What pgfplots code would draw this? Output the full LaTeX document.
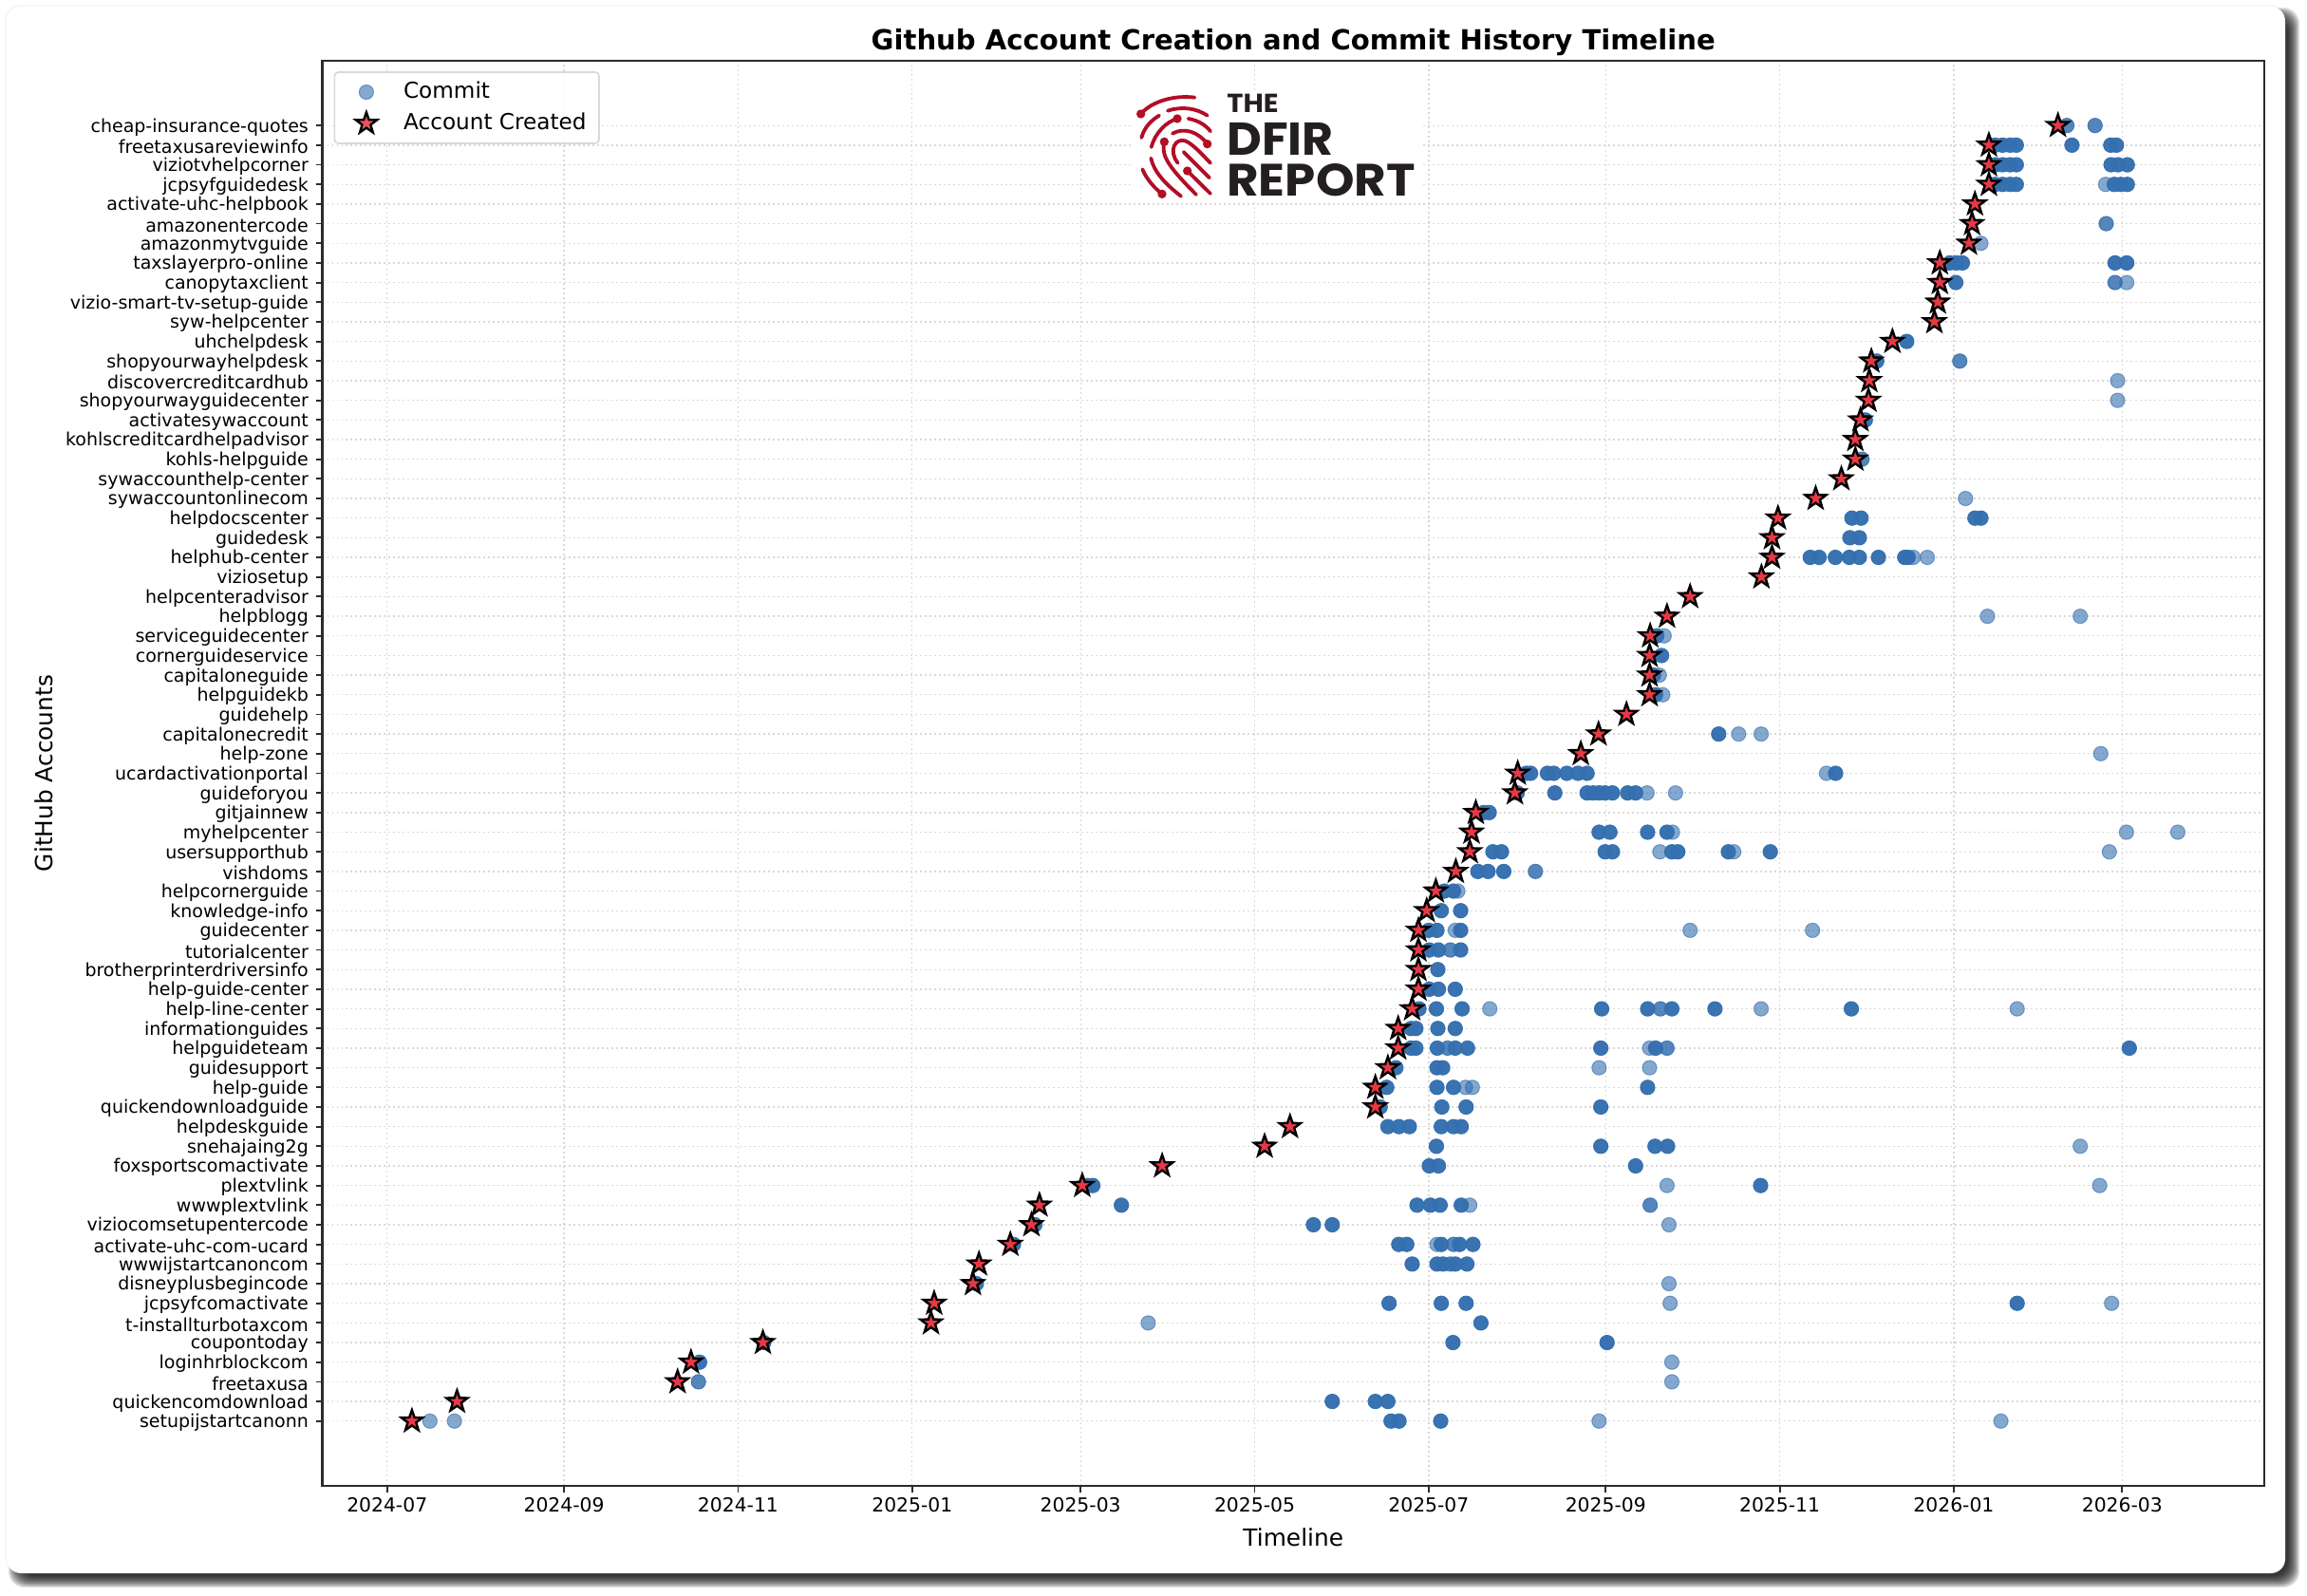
\documentclass[border=0pt]{standalone}
\usepackage{fontspec}
\setmainfont{DejaVu Sans}
\newfontfamily\logofont{Poppins}
\usepackage{pgfplots}
\pgfplotsset{compat=1.18}
\usetikzlibrary{calc}
\definecolor{commitc}{RGB}{52,111,175}
\definecolor{starc}{RGB}{230,57,70}
\definecolor{gridc}{RGB}{217,217,217}
\definecolor{framec}{RGB}{43,43,43}
\definecolor{logored}{RGB}{178,14,38}
\definecolor{logodark}{RGB}{35,31,32}
\pgfdeclareplotmark{fstar}{%
  \pgfpathmoveto{\pgfqpointpolar{90}{3.5pt}}%
  \pgfpathlineto{\pgfqpointpolar{126}{1.4pt}}%
  \pgfpathlineto{\pgfqpointpolar{162}{3.5pt}}%
  \pgfpathlineto{\pgfqpointpolar{198}{1.4pt}}%
  \pgfpathlineto{\pgfqpointpolar{234}{3.5pt}}%
  \pgfpathlineto{\pgfqpointpolar{270}{1.4pt}}%
  \pgfpathlineto{\pgfqpointpolar{306}{3.5pt}}%
  \pgfpathlineto{\pgfqpointpolar{342}{1.4pt}}%
  \pgfpathlineto{\pgfqpointpolar{18}{3.5pt}}%
  \pgfpathlineto{\pgfqpointpolar{54}{1.4pt}}%
  \pgfpathclose
  \pgfusepathqfillstroke
}
\begin{document}
\begin{tikzpicture}[x=1pt,y=1pt]
\useasboundingbox (0,0) rectangle (729,504);
% card shadow
\foreach \d in {7,6,5,4,3,2,1,0,-1,-2,-3,-4,-5}{
  \fill[black,opacity=0.11,rounded corners=5pt] ({2.4+2.4-0.3*\d+0.0},{504-497.1-2.4-0.3*\d}) rectangle ({722.1+2.4+0.3*\d},{504-2.1-2.4+0.3*\d});
}
\fill[black,opacity=0.03,rounded corners=5pt] (1.4,{504-497.1}) rectangle (722.1,{504-1.4});
\fill[white,rounded corners=4.5pt] (2.1,{504-497.1}) rectangle (722.1,{504-2.1});
\begin{axis}[
  at={(101.85pt,34.5pt)},anchor=south west,
  scale only axis,width=613.65pt,height=450.3pt,
  xmin=-22.7,xmax=657.8,ymin=-3.3,ymax=69.3,
  xtick={0,62,123,184,243,304,365,427,488,549,608},
  xticklabels={2024-07,2024-09,2024-11,2025-01,2025-03,2025-05,2025-07,2025-09,2025-11,2026-01,2026-03},
  ytick={0,1,...,66},
  yticklabels={setupijstartcanonn,quickencomdownload,freetaxusa,loginhrblockcom,coupontoday,t-installturbotaxcom,jcpsyfcomactivate,disneyplusbegincode,wwwijstartcanoncom,activate-uhc-com-ucard,viziocomsetupentercode,wwwplextvlink,plextvlink,foxsportscomactivate,snehajaing2g,helpdeskguide,quickendownloadguide,help-guide,guidesupport,helpguideteam,informationguides,help-line-center,help-guide-center,brotherprinterdriversinfo,tutorialcenter,guidecenter,knowledge-info,helpcornerguide,vishdoms,usersupporthub,myhelpcenter,gitjainnew,guideforyou,ucardactivationportal,help-zone,capitalonecredit,guidehelp,helpguidekb,capitaloneguide,cornerguideservice,serviceguidecenter,helpblogg,helpcenteradvisor,viziosetup,helphub-center,guidedesk,helpdocscenter,sywaccountonlinecom,sywaccounthelp-center,kohls-helpguide,kohlscreditcardhelpadvisor,activatesywaccount,shopyourwayguidecenter,discovercreditcardhub,shopyourwayhelpdesk,uhchelpdesk,syw-helpcenter,vizio-smart-tv-setup-guide,canopytaxclient,taxslayerpro-online,amazonmytvguide,amazonentercode,activate-uhc-helpbook,jcpsyfguidedesk,viziotvhelpcorner,freetaxusareviewinfo,cheap-insurance-quotes},
  tick align=outside,
  major tick length=2pt,
  tick style={line width=0.55pt,color=framec},
  xtick pos=bottom,ytick pos=left,
  axis line style={line width=0.8pt,color=framec},
  grid=major,
  grid style={color=gridc,line width=0.4pt,dash pattern=on 0.55pt off 0.95pt},
  yticklabel style={font=\fontsize{5.7}{7}\selectfont,inner sep=0pt,xshift=-2.2pt,yshift=-0.5pt},
  xticklabel style={font=\fontsize{6.1}{7}\selectfont,inner sep=0pt,yshift=-1.6pt},
  title={\textbf{Github Account Creation and Commit History Timeline}},
  title style={font=\fontsize{8.73}{10}\selectfont,at={(axis description cs:0.5,1)},anchor=south,yshift=-6.7pt,inner sep=2pt},
  xlabel={Timeline},
  ylabel={GitHub Accounts},
  label style={font=\fontsize{7.45}{9}\selectfont},
  xlabel style={at={(axis description cs:0.5,0)},anchor=north,yshift=-13.3pt,inner sep=0pt},
  ylabel style={at={(axis description cs:0,0.5)},anchor=south,rotate=0,xshift=0pt,yshift=85pt,inner sep=0pt},
  legend image code/.code={\draw[#1] plot coordinates {(7.8pt,0pt)}; \path (0pt,0pt) (17.3pt,0pt);},
  legend style={at={(axis description cs:0.0059,0.9925)},anchor=north west,draw=gridc,line width=0.5pt,rounded corners=1.2pt,
    fill=white,fill opacity=0.85,text opacity=1,font=\fontsize{6.95}{8}\selectfont,inner xsep=2pt,inner ysep=0.9pt,row sep=-0.9pt,
    cells={anchor=west}},
]
% single commits
\addplot[only marks,mark=*,mark size=2.28pt,mark options={fill=commitc,fill opacity=0.6,draw=commitc,draw opacity=0.6,line width=0.3pt}] coordinates {
(602.2,63)(609.6,58)(606.4,53)(606.4,52)(558.5,60)(553.1,47)
(534.8,44)(539.7,44)
(560.8,41)(593.3,41)(447.5,40)(445.8,38)(447,37)
(473.6,35)(481.5,35)(600.5,34)(504.4,33)
(441.5,32)(451.5,32)
(450.4,30)(609.5,30)(627.5,30)
(446,29)(471.9,29)(603.5,29)
(375.2,27)
(374.3,25)(456.6,25)(499.5,25)
(386.4,21)(481.5,21)(571.2,21)
(442.4,19)(424.7,18)(442.4,18)
(377.9,17)(380.3,17)
(593.3,14)
(448.5,12)(600.1,12)
(379.4,11)(449.2,10)(367.9,9)(449.2,7)
(449.6,6)(604.3,6)
(266.7,5)(450.2,3)(450.2,2)
(15,0)(23.6,0)(424.7,0)(565.5,0)
};
\addlegendentry{Commit}
% dates with a few commits
\addplot[forget plot,only marks,mark=*,mark size=2.28pt,mark options={fill=commitc,fill opacity=0.84,draw=commitc,draw opacity=0.84,line width=0.3pt}] coordinates {
(588.6,66)(598.5,66)(602.4,61)(605.5,58)(551.1,54)(516.8,49)
(402.4,28)(372.6,24)(446.2,21)(371.6,19)(448.5,19)
(442.6,11)(373.7,9)(372.6,8)(109.1,2)
};
% dates with many commits
\addplot[forget plot,only marks,mark=*,mark size=2.28pt,mark options={fill=commitc,draw=commitc,fill opacity=0.97,draw opacity=0.97,line width=0.3pt}] coordinates {
(563.5,65)(566.1,65)(568.7,65)(570.9,65)(590.4,65)(604,65)(606,65)
(563.5,64)(566.1,64)(568.7,64)(570.9,64)(604.1,64)(606.6,64)(609.8,64)
(563.5,63)(566.1,63)(568.7,63)(570.9,63)(605.2,63)(607.5,63)(609.8,63)
(547.6,59)(549.9,59)(552,59)(605.5,59)(609.6,59)
(549.7,58)
(532.5,55)
(522,54)
(518,51)
(513.3,46)(516.5,46)(556.4,46)(558.5,46)
(512.6,45)(515.9,45)
(498.7,44)(501.8,44)(507.5,44)(512.4,44)(515.9,44)(522.6,44)(531.8,44)(533,44)
(444.9,40)(446.6,39)(443.8,38)(444.5,37)
(466.6,35)
(399.2,33)(400.7,33)(406.6,33)(408.8,33)(413.4,33)(417.3,33)(420.5,33)(507.6,33)
(396,32)(409.2,32)(420.5,32)(422.6,32)(424.7,32)(426.8,32)(429.4,32)(434.7,32)(437.5,32)
(384.3,31)(386.2,31)
(424.7,30)(428.5,30)(441.7,30)(448.5,30)
(387.5,29)(390.5,29)(426.8,29)(429.4,29)(450.2,29)(452.3,29)(470,29)(484.7,29)
(382.2,28)(385.8,28)(391.3,28)
(370.5,27)(373.7,27)
(369.4,26)(376.2,26)
(365,25)(367.9,25)(376.2,25)
(365.2,24)(368.4,24)(376.2,24)
(368.2,23)
(365.2,22)(368.4,22)(374.3,22)
(361.6,21)(367.7,21)(376.7,21)(425.6,21)(441.7,21)(450.2,21)(465.3,21)(513.1,21)
(358.8,20)(360.5,20)(368.2,20)(374.3,20)
(358.8,19)(360.5,19)(368,19)(374.3,19)(378.6,19)(425.3,19)(444.5,19)(610.5,19)
(353.5,18)(367.9,18)(369.9,18)
(350.3,17)(367.9,17)(373.7,17)(441.7,17)
(348,16)(369.6,16)(378.1,16)(425.3,16)
(350.7,15)(354.6,15)(358.2,15)(369.4,15)(373.7,15)(376.4,15)
(367.7,14)(425.3,14)(444.3,14)(448.7,14)
(365.2,13)(368.4,13)(437.5,13)
(247.3,12)(245.5,12)(481.3,12)
(257.3,11)(360.9,11)(365.6,11)(369,11)(376.4,11)
(227,10)(324.6,10)(331.2,10)
(219.5,9)(354.5,9)(357.3,9)(369.4,9)(375.8,9)(380.5,9)
(359.2,8)(367.9,8)(370,8)(374.3,8)(378.4,8)
(206.5,7)
(351.1,6)(369.4,6)(378.1,6)(571.2,6)
(383.3,5)
(132,4)(373.5,4)(427.5,4)
(109.5,3)
(331.2,1)(346.3,1)(350.7,1)
(351.8,0)(354.6,0)(369.2,0)
};
% account creation
\addplot[only marks,mark=fstar,mark options={fill=starc,draw=black,line width=0.72pt,miter limit=6}] coordinates {
(585.5,66)(561.3,65)(561.3,64)(561.3,63)(556.4,62)(555.4,61)(554.3,60)(544.1,59)(544.1,58)(543.4,57)
(542.2,56)(527.5,55)(520.1,54)(519.4,53)(519.1,52)(516.3,51)(514.5,50)(514.5,49)(509.6,48)(500.6,47)
(487.4,46)(485.3,45)(485.3,44)(481.6,43)(456.6,42)(448.5,41)(442.6,40)(442.4,39)(442.4,38)(442.4,37)
(434.3,36)(424.5,35)(418.3,34)(396.2,33)(395.2,32)(381.5,31)(380,30)(379.4,29)(374.5,28)(367.5,27)
(364.3,26)(361.4,25)(361.4,24)(361.4,23)(361.4,22)(359.2,21)(354.3,20)(354.3,19)(350.7,18)(346.3,17)
(346.3,16)(316.4,15)(307.5,14)(271.6,13)(243.6,12)(228.6,11)(225.8,10)(218.4,9)(207.4,8)(205.3,7)
(191.7,6)(190.6,5)(131.7,4)(106.5,3)(101.8,2)(24.5,1)(8.7,0)
};
\addlegendentry{Account Created}
\end{axis}
% logo
\begin{scope}[shift={(345,483)},x=0.1pt,y=-0.1pt]
\fill[white] (130,80) rectangle (1040,425);
\begin{scope}[draw=logored,line width=1.15pt,line cap=round]
\draw (155,150) .. controls (190,110) and (260,90) .. (325,98);
\draw (240,140) .. controls (285,125) and (330,132) .. (365,155);
\draw (213,155) .. controls (185,172) and (165,195) .. (157,225);
\draw (188,255) .. controls (200,210) and (235,175) .. (270,165);
\draw (305,165) .. controls (335,170) and (360,185) .. (375,205);
\draw (255,212) .. controls (290,192) and (335,205) .. (365,245);
\draw (229,238) .. controls (220,280) and (235,310) .. (330,405);
\draw (272,305) .. controls (240,265) and (265,225) .. (295,235) .. controls (320,245) and (350,280) .. (375,305);
\draw (290,270) -- (372,352);
\draw (302,330) -- (375,402);
\draw (187,290) .. controls (195,330) and (230,370) .. (282,410);
\draw (160,325) .. controls (175,360) and (200,385) .. (222,403);
\end{scope}
\fill[logored] (155,150) circle (14) (270,165) circle (14) (365,245) circle (14) (229,238) circle (14) (302,330) circle (14) (222,403) circle (14);
\node[anchor=south west,inner sep=0pt,text=logodark] at (425,148) {\resizebox{16.3pt}{5.8pt}{\logofont\bfseries THE}};
\node[anchor=south west,inner sep=0pt,text=logodark] at (425,282) {\resizebox{33.7pt}{10.2pt}{\logofont\bfseries DFIR}};
\node[anchor=south west,inner sep=0pt,text=logodark] at (425,412) {\resizebox{59.5pt}{10.2pt}{\logofont\bfseries REPORT}};
\end{scope}
\end{tikzpicture}
\end{document}
